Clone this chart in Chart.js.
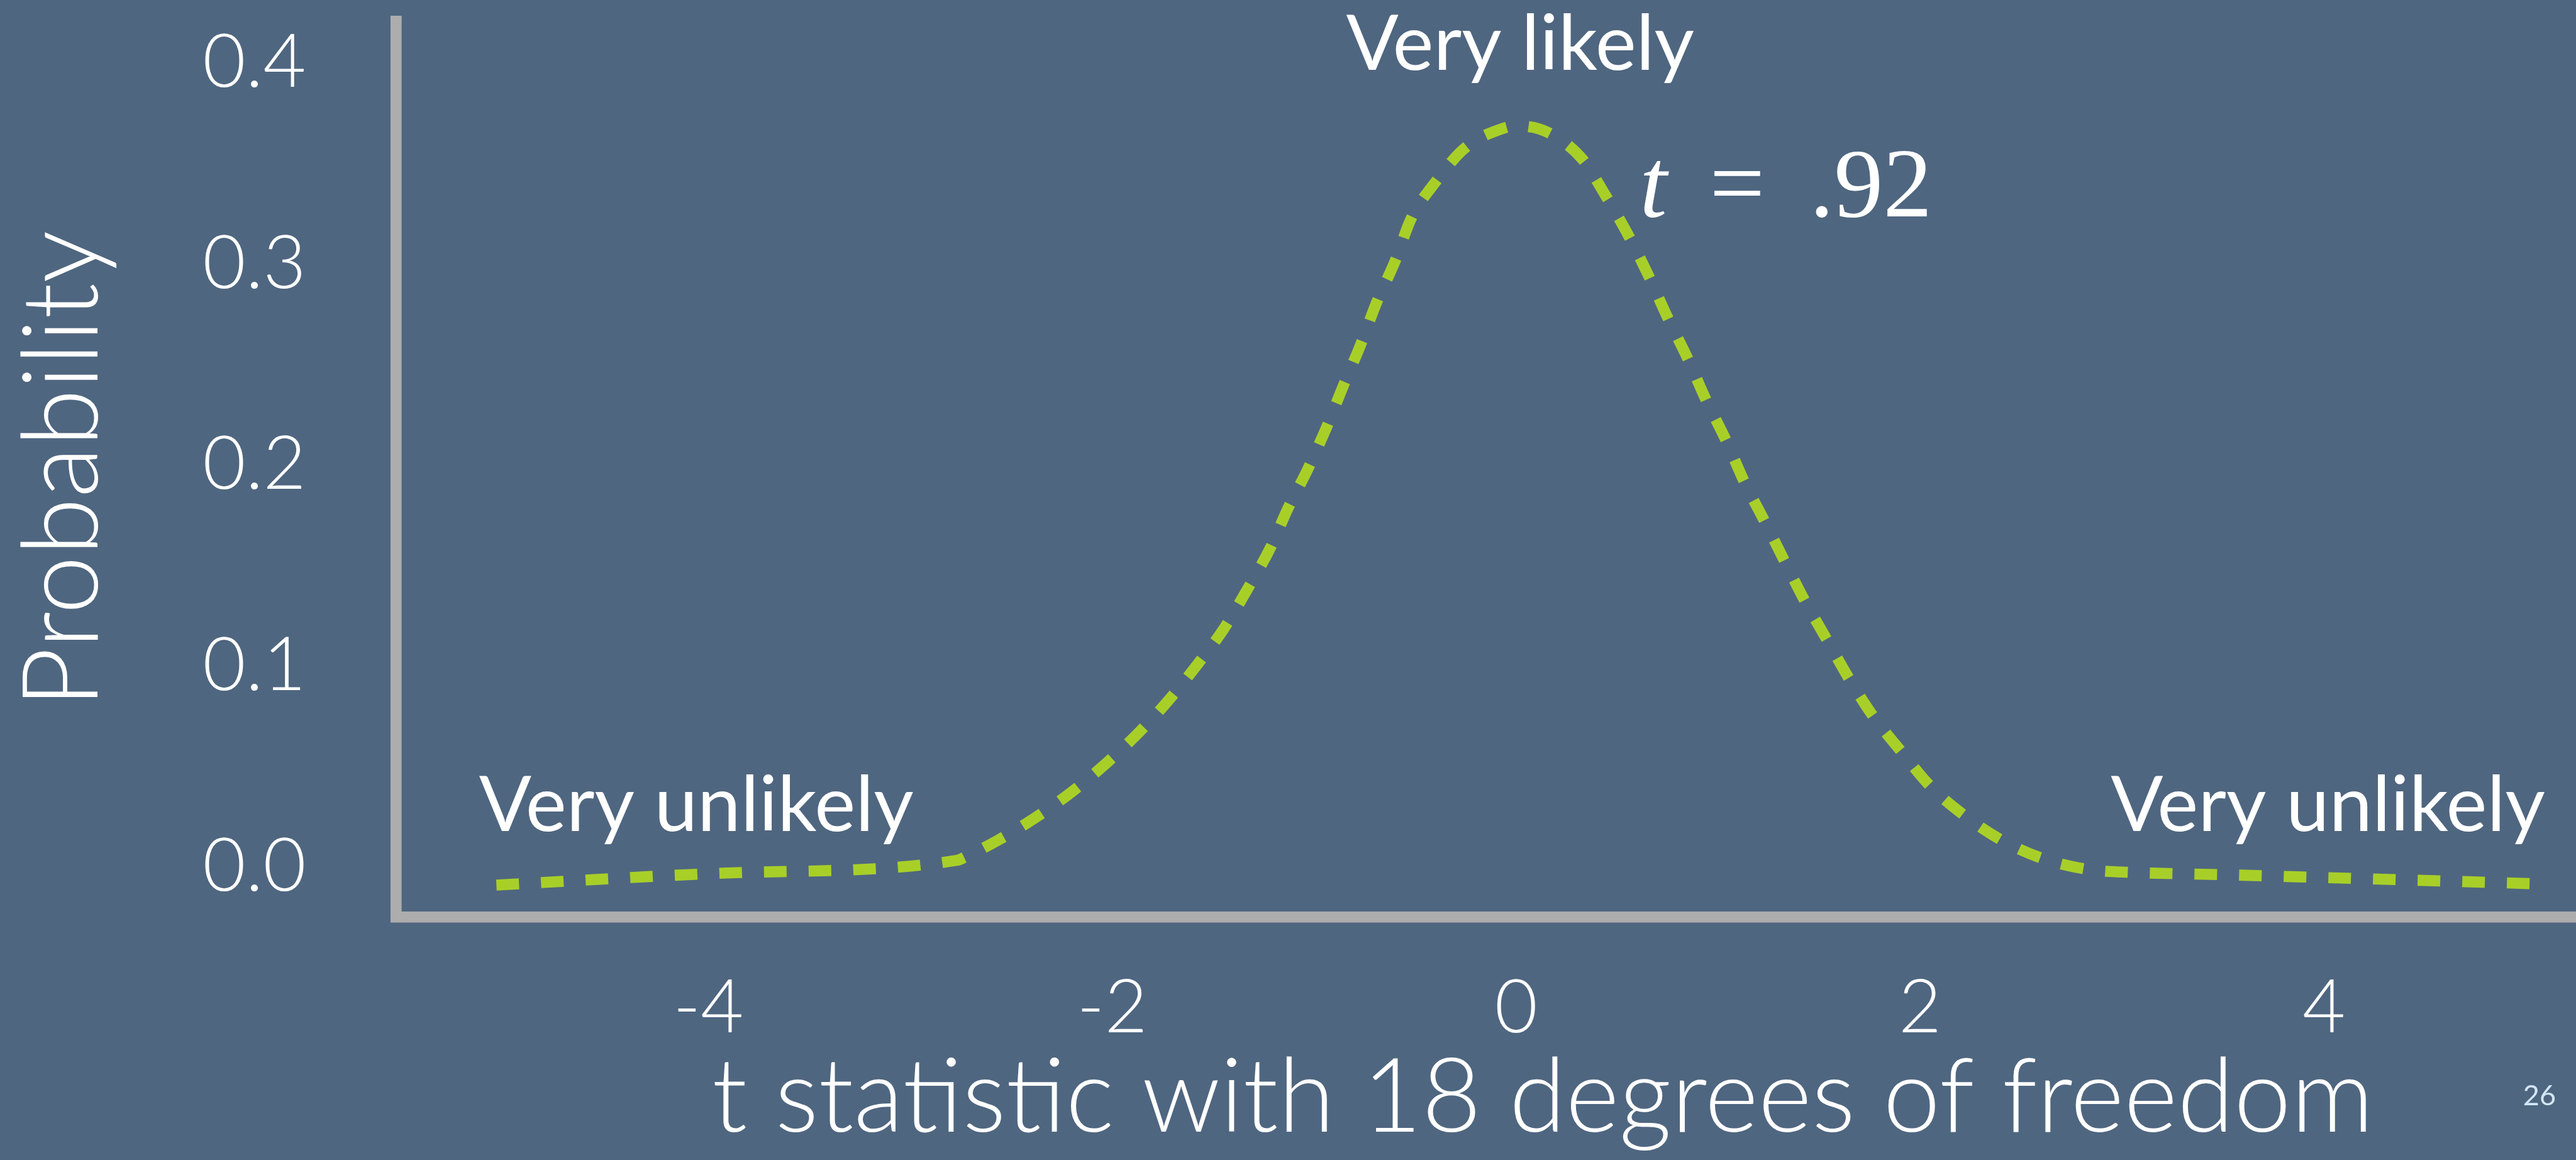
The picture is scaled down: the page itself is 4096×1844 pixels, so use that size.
<!DOCTYPE html>
<html>
<head>
<meta charset="utf-8">
<script src="https://cdn.jsdelivr.net/npm/chart.js@4.4.1/dist/chart.umd.min.js"></script>
<style>
  html, body { margin: 0; padding: 0; background: #4f6680; overflow: hidden; width: 4096px; height: 1844px; }
  canvas { display: block; }
</style>
</head>
<body>
<canvas id="c" width="4277" height="1844"></canvas>
<script>
// ---- data ----
const tValues = [-5.05, -3.91, -2.77, -2.73, -2.57, -2.38, -2.20, -2.03, -1.87, -1.72, -1.58, -1.45, -1.33, -1.22, -1.13, -1.03, -0.94, -0.86, -0.77, -0.69, -0.60, -0.52, -0.40, -0.25, -0.06, 0.00, 0.16, 0.33, 0.44, 0.56, 0.66, 0.75, 0.85, 0.94, 1.04, 1.13, 1.23, 1.33, 1.43, 1.54, 1.65, 1.77, 1.91, 2.05, 2.22, 2.41, 2.61, 2.83, 3.05, 3.49, 3.94, 4.39, 4.83, 5.09];
const probValues = [-0.0091, -0.0031, 0.0032, 0.0048, 0.0130, 0.0245, 0.0373, 0.0515, 0.0667, 0.0830, 0.1005, 0.1181, 0.1383, 0.1582, 0.1784, 0.1983, 0.2185, 0.2384, 0.2599, 0.2811, 0.3013, 0.3226, 0.3407, 0.3580, 0.3676, 0.3687, 0.3653, 0.3519, 0.3345, 0.3134, 0.2932, 0.2733, 0.2528, 0.2324, 0.2120, 0.1915, 0.1720, 0.1519, 0.1322, 0.1128, 0.0934, 0.0746, 0.0570, 0.0402, 0.0255, 0.0129, 0.0040, -0.0013, -0.0028, -0.0039, -0.0052, -0.0065, -0.0078, -0.0086];
const xTickValues = [-4, -2, 0, 2, 4];
const xTickLabels = ['-4', '-2', '0', '2', '4'];
const yTickValues = [0, 0.1, 0.2, 0.3, 0.4];
const yTickLabels = ['0.0', '0.1', '0.2', '0.3', '0.4'];
const xTitle = 't statistic with 18 degrees of freedom';
const yTitle = 'Probability';
const annotationTexts = ['Very likely', 'Very unlikely', 'Very unlikely'];
const annotationT = [0.02, -4.06, 4.02];
const annotationP = [0.3965, 0.0177, 0.0177];
const statParts = ['t', '=', '.92'];
const statT = 0.612;
const statP = 0.3236;
const pageNumber = '26';

// ---- styles ----
const VIEW_W = 4096;
const GREEN = '#a8cf28';
const AXIS = '#adadad';
const WHITE = '#ffffff';
const LIGHT = 'Lato, "Open Sans", "Noto Sans", sans-serif';

const textPlugin = {
  id: 'slideText',
  afterDraw(chart) {
    const ctx = chart.ctx;
    const xs = chart.scales.x, ys = chart.scales.y;
    ctx.save();
    ctx.fillStyle = WHITE;
    ctx.textBaseline = 'alphabetic';
    ctx.textAlign = 'center';
    ctx.font = '400 123px ' + LIGHT;
    annotationTexts.forEach((txt, i) => {
      ctx.fillText(txt, xs.getPixelForValue(annotationT[i]), ys.getPixelForValue(annotationP[i]));
    });
    // t = .92
    const sx = xs.getPixelForValue(statT), sy = ys.getPixelForValue(statP);
    ctx.textAlign = 'left';
    ctx.font = 'italic 156px "Liberation Serif", "DejaVu Serif", serif';
    ctx.fillText(statParts[0], sx, sy);
    ctx.font = '156px "Liberation Serif", "DejaVu Serif", serif';
    ctx.textAlign = 'center';
    ctx.fillText(statParts[1], sx + 155, sy);
    ctx.textAlign = 'left';
    ctx.fillText(statParts[2], sx + 270, sy);
    // page number
    ctx.font = '400 45px ' + LIGHT;
    ctx.fillStyle = '#d2e6f5';
    ctx.textAlign = 'right';
    ctx.fillText(pageNumber, VIEW_W - 32, chart.height - 87);
    ctx.restore();
  }
};

function noLabelPadding(s) {
  s.paddingTop = 0; s.paddingBottom = 0; s.paddingLeft = 0; s.paddingRight = 0;
}

new Chart(document.getElementById('c'), {
  type: 'line',
  data: {
    datasets: [{
      data: tValues.map((t, i) => ({ x: t, y: probValues[i] })),
      borderColor: GREEN,
      borderWidth: 17.6,
      borderDash: [36, 35],
      borderCapStyle: 'butt',
      pointRadius: 0,
      cubicInterpolationMode: 'monotone',
      fill: false
    }]
  },
  options: {
    responsive: false,
    animation: false,
    devicePixelRatio: 1,
    layout: { autoPadding: false, padding: { top: 34.3, right: 0, bottom: 0, left: 0 } },
    plugins: { legend: { display: false }, tooltip: { enabled: false } },
    scales: {
      x: {
        type: 'linear',
        min: -5.548,
        max: 5.812,
        grid: { display: false, drawTicks: false },
        border: { display: true, color: AXIS, width: 17.6 },
        ticks: {
          padding: 75,
          color: WHITE,
          autoSkip: false,
          maxRotation: 0,
          font: { family: LIGHT, size: 118, weight: 300 },
          callback: (v, i) => xTickLabels[i]
        },
        afterBuildTicks: s => { s.ticks = xTickValues.map(v => ({ value: v })); },
        afterFit: s => { s.height = 386.7; noLabelPadding(s); },
        title: {
          display: true, text: xTitle, color: WHITE,
          font: { family: LIGHT, size: 163, weight: 300, lineHeight: 1.0 },
          padding: { top: 0, bottom: 16 }
        }
      },
      y: {
        type: 'linear',
        min: -0.02486,
        max: 0.4206,
        grid: { display: false, drawTicks: false },
        border: { display: true, color: AXIS, width: 17.6 },
        ticks: {
          padding: 142.7,
          color: WHITE,
          autoSkip: false,
          font: { family: LIGHT, size: 118, weight: 300 },
          callback: (v, i) => yTickLabels[i]
        },
        afterBuildTicks: s => { s.ticks = yTickValues.map(v => ({ value: v })); },
        afterFit: s => { s.width = 629.4; noLabelPadding(s); },
        title: {
          display: true, text: yTitle, color: WHITE,
          font: { family: LIGHT, size: 167, weight: 300, lineHeight: 1.0 },
          padding: { top: 18, bottom: 0 }
        }
      }
    }
  },
  plugins: [textPlugin]
});
</script>
</body>
</html>
